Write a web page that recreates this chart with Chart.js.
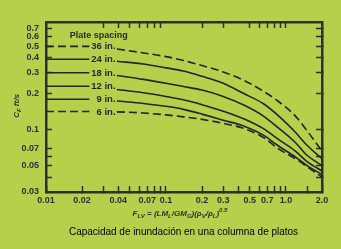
<!DOCTYPE html>
<html>
<head>
<meta charset="utf-8">
<script src="https://cdn.jsdelivr.net/npm/chart.js@4.4.1/dist/chart.umd.min.js"></script>
<style>
  html, body { margin: 0; padding: 0; background: #b7d04b; }
  #c { display: block; }
</style>
</head>
<body>
<canvas id="c" width="341" height="249"></canvas>
<script>
// ---- data ----
const FLV = [0.01, 0.023, 0.03, 0.039, 0.065, 0.1, 0.14, 0.2, 0.3, 0.45, 0.65, 0.85, 1.2, 1.5, 2.0];
const spacingLabels = ['36 in.', '24 in.', '18 in.', '12 in.', '9 in.', '6 in.'];
const spacing36 = [0.50, 0.50, null, 0.475, 0.44, 0.41, 0.38, 0.345, 0.305, 0.258, 0.21, 0.175, 0.13, 0.098, 0.066];
const spacing24 = [0.39, 0.39, null, 0.375, 0.355, 0.33, 0.31, 0.28, 0.245, 0.20, 0.165, 0.133, 0.095, 0.074, 0.057];
const spacing18 = [0.30, 0.30, null, 0.285, 0.264, 0.245, 0.23, 0.215, 0.19, 0.16, 0.13, 0.105, 0.078, 0.061, 0.050];
const spacing12 = [0.231, 0.231, null, 0.217, 0.204, 0.19, 0.178, 0.162, 0.143, 0.123, 0.102, 0.084, 0.066, 0.054, 0.045];
const spacing9  = [0.18, 0.18, null, 0.174, 0.166, 0.157, 0.148, 0.135, 0.12, 0.107, 0.09, 0.074, 0.059, 0.050, 0.042];
const spacing6  = [0.142, 0.142, null, 0.141, 0.138, 0.133, 0.128, 0.122, 0.113, 0.102, 0.086, 0.070, 0.057, 0.049, 0.040];
const dashedSeries = [true, false, false, false, false, true];
const labelAtFLV = 0.038;

const xTickLabels = [0.01, 0.02, 0.04, 0.07, 0.1, 0.2, 0.3, 0.5, 0.7, 1.0, 2.0];
const yTickLabels = [0.03, 0.05, 0.07, 0.1, 0.2, 0.3, 0.4, 0.5, 0.6, 0.7];
const xTopTicks = [0.03, 0.04, 0.05, 0.06, 0.07, 0.08, 0.09, 0.2, 0.3, 0.5, 0.6, 0.7, 0.8, 0.9, 1.0];
const yTickMarks = [0.04, 0.05, 0.06, 0.07, 0.1, 0.2, 0.3, 0.4, 0.5, 0.6, 0.7];
const xMin = 0.01, xMax = 2.0, yMin = 0.03, yMax = 0.8;

const caption = 'Capacidad de inundación en una columna de platos';
const legendTitle = 'Plate spacing';

// ---- styling ----
const ink = '#1f2727';
const axisInk = '#283030';
const tickFont = { family: 'Liberation Sans', size: 9, weight: 'bold' };
const near = (a, b) => Math.abs(a - b) / b < 1e-6;
const inList = (list, v) => list.some(t => near(v, t));
const fmt = v => (v >= 1 ? v.toFixed(1) : String(+v.toPrecision(2)));

const allSeries = [spacing36, spacing24, spacing18, spacing12, spacing9, spacing6];
const datasets = allSeries.map((vals, i) => ({
  label: spacingLabels[i],
  data: FLV.map((x, j) => ({ x: x, y: vals[j] })),
  borderColor: ink,
  borderWidth: 1.6,
  borderDash: dashedSeries[i] ? [8, 4] : [],
  pointRadius: 0,
  fill: false,
  spanGaps: false,
  cubicInterpolationMode: 'monotone'
}));

function tickGrid(list) {
  return {
    drawOnChartArea: false,
    drawTicks: true,
    tickLength: -6,
    tickWidth: 1.5,
    tickColor: ctx => (ctx.tick && inList(list, ctx.tick.value)) ? axisInk : 'rgba(0,0,0,0)'
  };
}
const border = { display: true, color: axisInk, width: 2.5 };

function drawRich(ctx, parts, x, y, size, align) {
  const subSize = Math.round(size * 0.7);
  let total = 0;
  parts.forEach(p => {
    ctx.font = 'italic bold ' + (p.s ? subSize : size) + 'px "Liberation Sans"';
    p.w = ctx.measureText(p.t).width;
    total += p.w;
  });
  let cx = align === 'center' ? x - total / 2 : x;
  parts.forEach(p => {
    ctx.font = 'italic bold ' + (p.s ? subSize : size) + 'px "Liberation Sans"';
    let dy = 0;
    if (p.s === 'sub') dy = size * 0.3;
    if (p.s === 'sup') dy = -size * 0.45;
    ctx.fillText(p.t, cx, y + dy);
    cx += p.w;
  });
}

const textPlugin = {
  id: 'texts',
  afterDraw(chart) {
    const ctx = chart.ctx;
    const xs = chart.scales.x, ys = chart.scales.y;
    ctx.save();
    ctx.fillStyle = ink;
    ctx.textBaseline = 'middle';
    // legend title
    ctx.font = 'bold 9px "Liberation Sans"';
    ctx.textAlign = 'center';
    ctx.fillText(legendTitle, xs.getPixelForValue(0.0275), ys.getPixelForValue(0.615));
    // inline labels
    ctx.textAlign = 'right';
    ctx.font = 'bold 9.5px "Liberation Sans"';
    allSeries.forEach((vals, i) => {
      ctx.fillText(spacingLabels[i], xs.getPixelForValue(labelAtFLV), ys.getPixelForValue(vals[0]) + 0.5);
    });
    // x-axis title
    ctx.textAlign = 'left';
    ctx.textBaseline = 'alphabetic';
    ctx.fillStyle = '#2a3030';
    drawRich(ctx, [
      { t: 'F' }, { t: 'LV', s: 'sub' }, { t: ' = (LM' }, { t: 'L', s: 'sub' },
      { t: '/GM' }, { t: 'G', s: 'sub' }, { t: ')(\u03C1' }, { t: 'V', s: 'sub' },
      { t: '/\u03C1' }, { t: 'L', s: 'sub' }, { t: ')' }, { t: '0.5', s: 'sup' }
    ], 180, 216, 8, 'center');
    // y-axis title
    ctx.save();
    ctx.translate(19, 106);
    ctx.rotate(-Math.PI / 2);
    drawRich(ctx, [{ t: 'C' }, { t: 'F', s: 'sub' }, { t: ' ft/s' }], 0, 0, 8, 'center');
    ctx.restore();
    // caption
    ctx.fillStyle = '#000';
    ctx.textAlign = 'left';
    ctx.textBaseline = 'middle';
    ctx.font = '10px "Liberation Sans"';
    const target = 229;
    const w0 = ctx.measureText(caption).width;
    const ls = (target - w0) / (caption.length - 1);
    let cx = 69;
    for (const ch of caption) {
      ctx.fillText(ch, cx, 232);
      cx += ctx.measureText(ch).width + ls;
    }
    ctx.restore();
  }
};

new Chart(document.getElementById('c'), {
  type: 'line',
  data: { datasets: datasets },
  plugins: [textPlugin],
  options: {
    responsive: false,
    animation: false,
    devicePixelRatio: 1,
    layout: { padding: 0 },
    plugins: { legend: { display: false }, tooltip: { enabled: false }, title: { display: false } },
    scales: {
      x: {
        type: 'logarithmic', position: 'bottom', min: xMin, max: xMax,
        border: border, grid: tickGrid(FLV.concat([0.02,0.04,0.05,0.06,0.07,0.08,0.09,0.2,0.3,0.4,0.5,0.6,0.7,0.8,0.9,1.0])),
        ticks: {
          autoSkip: false, maxRotation: 0, minRotation: 0, padding: 9,
          font: tickFont, color: '#2a3030',
          callback: v => inList(xTickLabels, v) ? fmt(v) : ''
        },
        afterFit: s => { s.height = 57; }
      },
      x2: {
        type: 'logarithmic', position: 'top', min: xMin, max: xMax,
        border: border, grid: tickGrid(xTopTicks),
        ticks: { display: false },
        afterFit: s => { s.height = 22; }
      },
      y: {
        type: 'logarithmic', position: 'left', min: yMin, max: yMax,
        border: border, grid: tickGrid(yTickMarks),
        ticks: {
          autoSkip: false, padding: 13, font: tickFont, color: '#2a3030',
          callback: v => inList(yTickLabels, v) ? fmt(v) : ''
        },
        afterFit: s => { s.width = 46; }
      },
      y2: {
        type: 'logarithmic', position: 'right', min: yMin, max: yMax,
        border: border, grid: tickGrid(yTickMarks),
        ticks: { display: false },
        afterFit: s => { s.width = 19; }
      }
    }
  }
});
</script>
</body>
</html>
